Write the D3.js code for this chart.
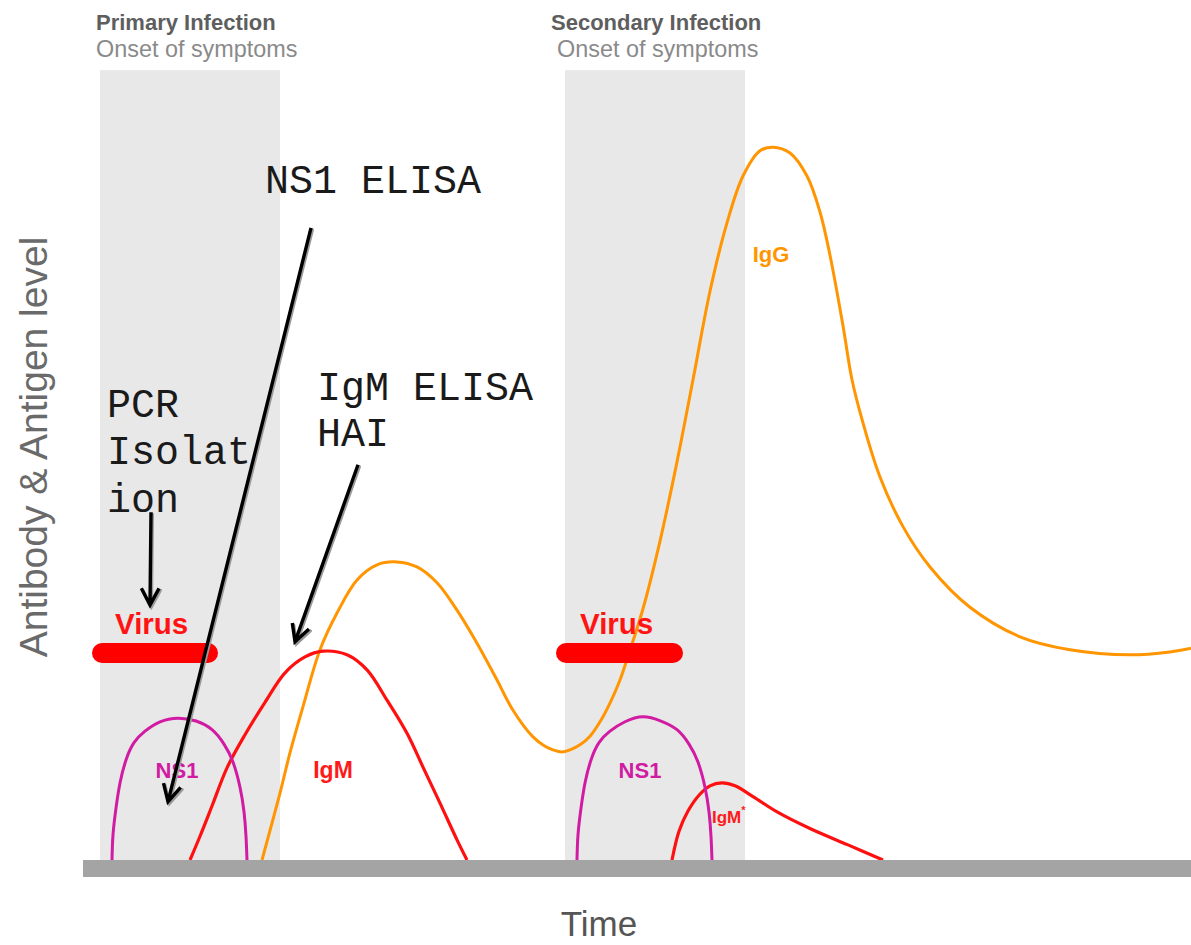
<!DOCTYPE html>
<html><head><meta charset="utf-8">
<script src="https://cdn.jsdelivr.net/npm/d3@7"></script>
<style>html,body{margin:0;padding:0;background:#fff;}svg{display:block;}</style>
</head><body>
<svg id="chart" width="1191" height="945"></svg>
<script>
// ---------- data (time units, level units) ----------
const phases = ["Primary Infection", "Secondary Infection"];
const phaseSub = "Onset of symptoms";
const symptomStart = [1.7, 48.2];
const symptomEnd = [19.7, 66.2];
const virusStart = [0.9, 47.3];
const virusEnd = [13.5, 60.0];
const virusLevel = 28.75;

const ns1Primary = [[2.9,0],[3.0,3.5],[3.3,7.2],[3.7,10.7],[4.3,13.9],[5.1,16.3],[6.2,17.9],[7.7,19.2],[9.5,19.7],[11.3,19.3],[12.9,18.1],[14.1,16.1],[15.0,13.6],[15.7,10.1],[16.1,6.7],[16.3,3.3],[16.4,0]];
const ns1Secondary = [[49.4,0],[49.5,3.5],[49.8,7.2],[50.2,10.7],[50.8,13.9],[51.6,16.3],[52.7,17.9],[54.2,19.2],[56.0,19.9],[57.8,19.3],[59.4,18.1],[60.6,16.1],[61.5,13.6],[62.2,10.1],[62.6,6.7],[62.8,3.3],[62.9,0]];
const igmPrimary = [[10.7,0],[11.7,3.3],[12.9,7.5],[14.4,12.8],[16.2,17.4],[18.2,21.9],[20.2,26.0],[22.2,28.2],[24.0,29.0],[26.4,28.5],[28.4,26.4],[30.4,22.2],[32.4,17.6],[34.0,12.9],[35.7,7.9],[37.4,2.8],[38.4,0]];
const igmSecondary = [[58.9,0],[59.6,4.0],[60.5,6.8],[61.6,9.0],[62.7,10.3],[63.9,10.7],[65.2,10.3],[67.0,8.8],[69.5,6.6],[72.8,4.3],[76.5,2.1],[80.0,0]];
const igg = [[17.9,0],[19.7,9.3],[20.7,14.9],[22.0,21.3],[23.7,29.2],[25.4,34.3],[27.4,38.9],[29.4,41.0],[31.4,41.4],[33.4,40.7],[35.4,38.5],[37.4,34.7],[39.4,30.1],[41.4,25.0],[43.0,20.8],[45.0,17.1],[46.2,15.8],[47.0,15.3],[47.9,15.0],[48.7,15.3],[49.7,16.0],[50.7,17.2],[51.7,19.2],[52.7,21.8],[53.7,25.0],[54.5,28.3],[56.0,34.9],[57.7,44.3],[59.4,55.3],[61.0,66.7],[62.7,79.0],[64.4,88.5],[66.0,95.0],[67.7,98.5],[69.0,99.0],[70.7,98.2],[72.4,95.0],[73.7,90.0],[74.7,84.0],[76.0,74.2],[76.9,66.7],[78.0,60.7],[79.7,53.2],[82.0,46.3],[84.7,40.7],[88.7,35.1],[93.7,31.0],[98.7,29.2],[104.7,28.5],[108.7,28.9],[110.8,29.4]];

const curveLabels = ["NS1", "NS1", "IgM", "IgM", "IgG"];
const curveLabelT = [9.4, 55.7, 25.0, 62.9, 68.8];
const curveLabelV = [11.4, 11.4, 11.4, 5.1, 83.1];

const testLines = [["NS1 ELISA"], ["IgM ELISA", "HAI"], ["PCR", "Isolat", "ion"]];
const testT = [18.2, 23.4, 2.4];
const testV = [[92.6], [63.9, 57.5], [61.5, 55.0, 48.3]];
const arrowFrom = [[22.8, 87.8], [27.5, 54.9], [6.8, 48.3]];
const arrowTo = [[8.5, 8.1], [21.2, 30.3], [6.7, 35.4]];

const yTitle = "Antibody & Antigen level";
const xTitle = "Time";

// ---------- scales ----------
const svg = d3.select("#chart");
const x = d3.scaleLinear().domain([0, 110.8]).range([83, 1191]);
const y = d3.scaleLinear().domain([0, 100]).range([860, 140]);
const topLevel = 109.7;

// symptom bands
svg.selectAll("rect.band").data(symptomStart).join("rect").attr("class","band")
  .attr("x", d => x(d)).attr("width", (d,i) => x(symptomEnd[i]) - x(d))
  .attr("y", y(topLevel)).attr("height", y(0) - y(topLevel))
  .attr("fill", "#e8e8e8");

// headers
const hdrT = [1.3, 46.8];
const subT = [1.3, 47.4];
svg.selectAll("text.hdr").data(phases).join("text").attr("class","hdr")
  .attr("x", (d,i) => x(hdrT[i])).attr("y", y(115.3))
  .attr("font-family", "Liberation Sans, Arial, sans-serif").attr("font-weight", "bold")
  .attr("font-size", 22).attr("fill", "#5e5e5e").text(d => d);
svg.selectAll("text.sub").data(phases).join("text").attr("class","sub")
  .attr("x", (d,i) => x(subT[i])).attr("y", y(111.5))
  .attr("font-family", "Liberation Sans, Arial, sans-serif")
  .attr("font-size", 23.4).attr("fill", "#8a8a8a").text(phaseSub);

// curves
const fnLine = d3.line().x(d => x(d[0])).y(d => y(d[1])).curve(d3.curveCatmullRom.alpha(0.5));
const domeLine = d3.line().x(d => x(d[0])).y(d => y(d[1])).curve(d3.curveNatural);
const series = [
  {pts: igg, color: "#ff9500", w: 3, gen: fnLine},
  {pts: igmPrimary, color: "#ff1010", w: 3.2, gen: fnLine},
  {pts: igmSecondary, color: "#ff1010", w: 3.2, gen: fnLine},
  {pts: ns1Primary, color: "#d11ba3", w: 3, gen: domeLine},
  {pts: ns1Secondary, color: "#d11ba3", w: 3, gen: domeLine}
];
svg.selectAll("path.curve").data(series).join("path").attr("class","curve")
  .attr("d", d => d.gen(d.pts)).attr("fill", "none")
  .attr("stroke", d => d.color).attr("stroke-width", d => d.w);

// virus bars
const barH = 20;
svg.selectAll("rect.virus").data(virusStart).join("rect").attr("class","virus")
  .attr("x", d => x(d)).attr("width", (d,i) => x(virusEnd[i]) - x(d))
  .attr("y", y(virusLevel) - barH/2).attr("height", barH).attr("rx", barH/2)
  .attr("fill", "#ff0000");
const virusTextT = [3.2, 49.7];
svg.selectAll("text.virus").data(virusTextT).join("text").attr("class","virus")
  .attr("x", d => x(d)).attr("y", y(31.4))
  .attr("font-family", "Liberation Sans, Arial, sans-serif").attr("font-weight", "bold")
  .attr("font-size", 29.5).attr("fill", "#ff1414").text("Virus");

// baseline
svg.append("rect").attr("x", x(0)).attr("width", x(110.8) - x(0))
  .attr("y", y(0)).attr("height", 17).attr("fill", "#a4a4a4");

// curve labels
const labelColors = ["#d11ba3", "#d11ba3", "#ff1a1a", "#ff1a1a", "#ff9500"];
const labelSizes = [22, 22, 23, 17, 22];
const labelAnchor = ["middle", "middle", "middle", "start", "middle"];
const lbl = svg.selectAll("text.lbl").data(curveLabels).join("text").attr("class","lbl")
  .attr("x", (d,i) => x(curveLabelT[i])).attr("y", (d,i) => y(curveLabelV[i]))
  .attr("text-anchor", (d,i) => labelAnchor[i])
  .attr("font-family", "Liberation Sans, Arial, sans-serif").attr("font-weight", "bold")
  .attr("font-size", (d,i) => labelSizes[i]).attr("fill", (d,i) => labelColors[i])
  .text(d => d);
lbl.filter((d,i) => i === 3).append("tspan").attr("font-size", 11).attr("dy", -9).text("*");

// axis titles
svg.append("text").attr("transform", "translate(47,447) rotate(-90)")
  .attr("text-anchor", "middle").attr("font-family", "Liberation Sans, Arial, sans-serif")
  .attr("font-size", 39).attr("fill", "#6a6a6a").text(yTitle);
svg.append("text").attr("x", 599).attr("y", 936)
  .attr("text-anchor", "middle").attr("font-family", "Liberation Sans, Arial, sans-serif")
  .attr("font-size", 35).attr("fill", "#555").text(xTitle);

// test annotations
testLines.forEach((lines, i) => {
  const t = svg.append("text").attr("font-family", "Liberation Mono, Courier New, monospace")
    .attr("font-size", 40).attr("fill", "#1a1a1a");
  lines.forEach((s, j) => {
    t.append("tspan").attr("x", x(testT[i])).attr("y", y(testV[i][j])).text(s);
  });
});

// arrows
function arrowPath(a, b, dx, dy) {
  const x1 = x(a[0]) + dx, y1 = y(a[1]) + dy, x2 = x(b[0]) + dx, y2 = y(b[1]) + dy;
  const ang = Math.atan2(y2 - y1, x2 - x1), L = 19, sp = Math.PI / 6.5;
  const p1 = [x2 - L * Math.cos(ang - sp), y2 - L * Math.sin(ang - sp)];
  const p2 = [x2 - L * Math.cos(ang + sp), y2 - L * Math.sin(ang + sp)];
  return `M${x1},${y1}L${x2},${y2}M${p1[0]},${p1[1]}L${x2},${y2}L${p2[0]},${p2[1]}`;
}
svg.selectAll("path.ashadow").data(arrowFrom).join("path").attr("class","ashadow")
  .attr("d", (d,i) => arrowPath(d, arrowTo[i], 1.5, 2)).attr("fill", "none")
  .attr("stroke", "#9a9a9a").attr("stroke-width", 3).attr("stroke-linecap", "round");
svg.selectAll("path.arrow").data(arrowFrom).join("path").attr("class","arrow")
  .attr("d", (d,i) => arrowPath(d, arrowTo[i], 0, 0)).attr("fill", "none")
  .attr("stroke", "#000").attr("stroke-width", 3.4).attr("stroke-linecap", "butt")
  .attr("stroke-linejoin", "miter");
</script>
</body></html>
